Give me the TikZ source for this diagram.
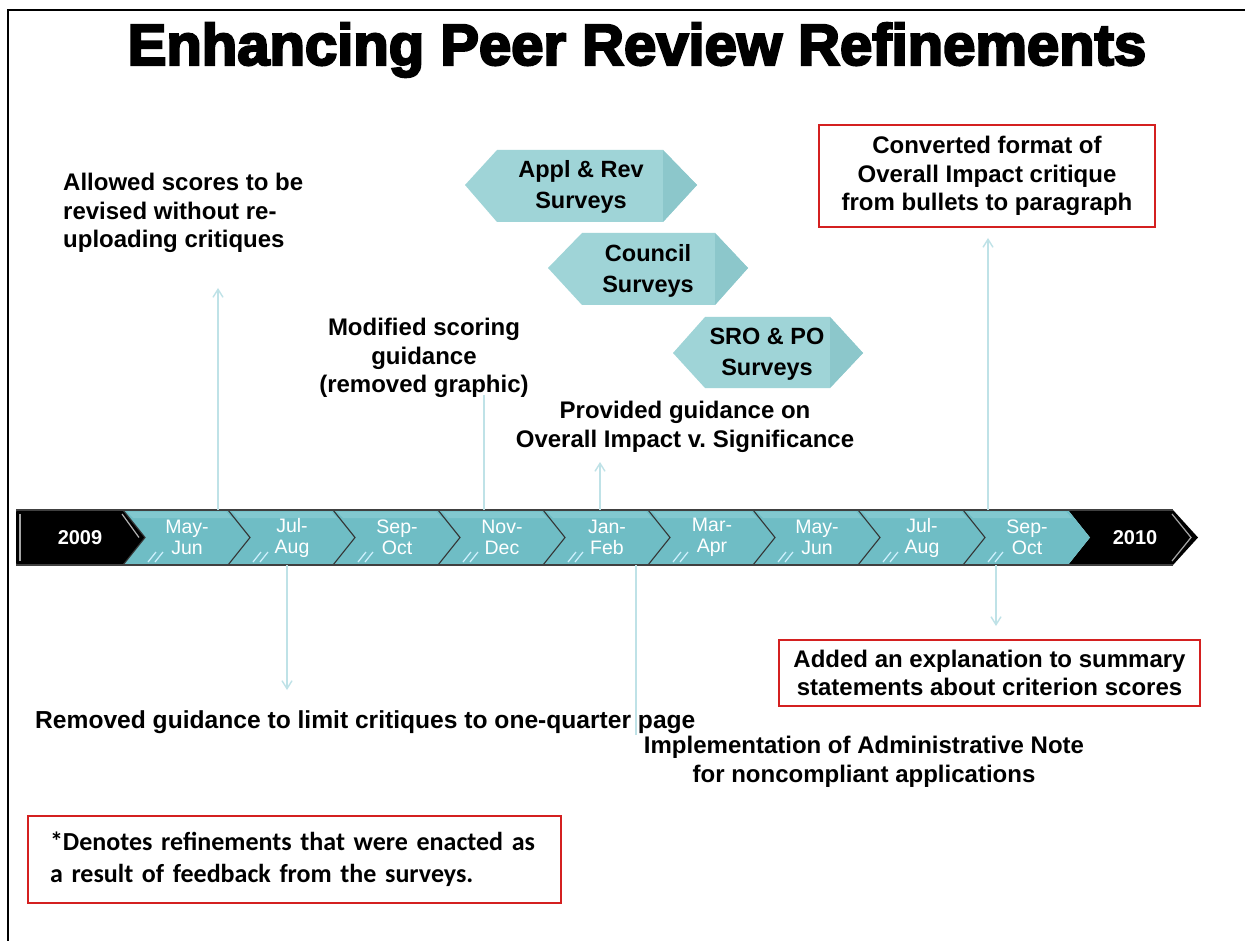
\documentclass[tikz,border=0pt]{standalone}
\usepackage{fontspec}
\setmainfont{Liberation Sans}
\newfontfamily\titlefont{Liberation Sans}[BoldFeatures={FakeBold=4}]
\newfontfamily\notefont{Carlito}
\usetikzlibrary{arrows.meta}

\definecolor{segteal}{HTML}{6FBDC5}
\definecolor{segtealhi}{HTML}{8FD0D6}
\definecolor{survey}{HTML}{9FD4D7}
\definecolor{surveydark}{HTML}{8CC7CB}
\definecolor{leader}{HTML}{BFE2E7}
\definecolor{boxred}{HTML}{D42020}

\tikzset{
  body/.style={font=\bfseries\fontsize{24}{28.5}\selectfont, align=center, inner sep=0pt},
  bodyleft/.style={body, align=left},
  redbox/.style={draw=boxred, line width=1.6pt},
  month/.style={font=\fontsize{19.5}{21}\selectfont, text=white, align=center, inner sep=0pt},
  yearlbl/.style={font=\bfseries\fontsize{20}{20}\selectfont, text=white, inner sep=0pt},
  lead/.style={draw=leader, line width=1.4pt},
  leadarrow/.style={lead, -{Straight Barb[length=8pt,width=10pt]}},
  surveylbl/.style={font=\bfseries\fontsize{23.5}{30.5}\selectfont, align=center, inner sep=0pt},
}

\begin{document}
\begin{tikzpicture}[x=1pt,y=-1pt]
\useasboundingbox (0,0) rectangle (1245,941);
\fill[white] (0,0) rectangle (1245,941);

% page frame (top and left edges)
\draw[line width=2.6pt] (8,941) -- (8,10) -- (1245,10);

% title
\node[font=\titlefont\bfseries\fontsize{58}{60}\selectfont, inner sep=0pt] (title) at (637,50) {Enhancing Peer Review Refinements};

% ---------- timeline bar ----------
\def\bt{510}\def\bb{565}\def\bm{537.5}
% 2009
\fill[black, rounded corners=2pt] (16,\bt) -- (123,\bt) -- (145,\bm) -- (123,\bb) -- (16,\bb) -- cycle;
\draw[gray!70, line width=1.2pt] (20,\bt+4) -- (20,\bb-4);
\draw[gray!60, line width=1.2pt] (122,\bt+4) -- (139,\bm);
\node[yearlbl] (y2009) at (80,\bm) {2009};
% 2010
\fill[black] (1068,\bt) -- (1173,\bt) -- (1198,\bm) -- (1173,\bb) -- (1068,\bb) -- (1090,\bm) -- cycle;
\draw[gray!70, line width=1.2pt] (1172,\bt+4) -- (1191,\bm) -- (1172,\bb-4);
\node[yearlbl] (y2010) at (1135,\bm) {2010};

% teal two-month segments
\foreach \i/\top/\bot in {0/May-/Jun,1/Jul-/Aug,2/Sep-/Oct,3/Nov-/Dec,4/Jan-/Feb,5/Mar-/Apr,6/May-/Jun,7/Jul-/Aug,8/Sep-/Oct}{
  \pgfmathsetmacro\L{123+105*\i}
  \pgfmathsetmacro\R{\L+105}
  \fill[segteal] (\L,\bt) -- (\R,\bt) -- (\R+22,\bm) -- (\R,\bb) -- (\L,\bb) -- (\L+22,\bm) -- cycle;
  \fill[segtealhi, opacity=0.6] (\L+4,\bt+1.5) -- (\R-2,\bt+1.5) -- (\R+4,\bt+8) -- (\L+10,\bt+8) -- cycle;
  \draw[black!80, line width=1.1pt] (\L,\bt) -- (\L+22,\bm) -- (\L,\bb);
  \draw[white!80!cyan, line width=1.3pt] (\L+25,\bb-3) -- (\L+33,\bb-13);
  \draw[white!80!cyan, line width=1.3pt] (\L+32,\bb-3) -- (\L+40,\bb-13);
  \node[month] (m\i) at (\L+64,\bm) {\top\\\bot};
}
\draw[black!75, line width=1.2pt] (16,\bt) -- (1173,\bt);
\draw[black!75, line width=1.2pt] (16,\bb) -- (1173,\bb);

% points on the bar where leaders start
\coordinate (pA) at (218,\bt);
\coordinate (pB) at (287,\bb);
\coordinate (pC) at (484,\bt);
\coordinate (pD) at (600,\bt);
\coordinate (pE) at (636,\bb);
\coordinate (pF) at (988,\bt);
\coordinate (pG) at (996,\bb);

% ---------- survey markers ----------
\fill[survey] (465,185) -- (497,150) -- (663,150) -- (697,185) -- (663,222) -- (497,222) -- cycle;
\fill[surveydark] (663,150) -- (697,185) -- (663,222) -- cycle;
\node[surveylbl] (sv1) at (581,187) {Appl \& Rev\\Surveys};

\fill[survey] (548,268) -- (582,233) -- (715,233) -- (748,268) -- (715,305) -- (582,305) -- cycle;
\fill[surveydark] (715,233) -- (748,268) -- (715,305) -- cycle;
\node[surveylbl] (sv2) at (648,271) {Council\\Surveys};

\fill[survey] (673,353) -- (705,317) -- (830,317) -- (863,353) -- (830,388) -- (705,388) -- cycle;
\fill[surveydark] (830,317) -- (863,353) -- (830,388) -- cycle;
\node[surveylbl] (sv3) at (767,354) {SRO \& PO\\Surveys};

% ---------- refinements ----------
\node[bodyleft, anchor=west] (tA) at (63,213) {Allowed scores to be\\revised without re-\\uploading critiques};
\coordinate (aA) at (218,288);

\node[body] (tC) at (424,358) {Modified scoring\\guidance\\(removed graphic)};
\coordinate (aC) at (484,395);

\node[body] (tD) at (685,427) {Provided guidance on\\Overall Impact v.\ Significance};
\coordinate (aD) at (600,462);

\node[body, redbox, minimum width=336pt, minimum height=102pt] (tF) at (987,176) {Converted format of\\Overall Impact critique\\from bullets to paragraph};
\coordinate (aF) at (988,238);

\node[body, anchor=west, font=\bfseries\fontsize{24.6}{28.5}\selectfont] (tB) at (35,722) {Removed guidance to limit critiques to one-quarter page};
\coordinate (aB) at (287,690);

\node[body] (tE) at (864,762) {Implementation of Administrative Note\\for noncompliant applications};
\coordinate (aE) at (636,735);

\node[body, redbox, minimum width=421pt, minimum height=66pt] (tG) at (989.5,673) {Added an explanation to summary\\statements about criterion scores};
\coordinate (aG) at (996,626);

% leaders
\draw[leadarrow] (pA) -- (aA);
\draw[leadarrow] (pB) -- (aB);
\draw[lead] (pC) -- (aC);
\draw[leadarrow] (pD) -- (aD);
\draw[lead] (pE) -- (aE);
\draw[leadarrow] (pF) -- (aF);
\draw[leadarrow] (pG) -- (aG);

% footnote
\node[redbox, align=left, text width=489pt, inner xsep=22pt, inner ysep=0pt, minimum height=87pt,
      font=\notefont\bfseries\fontsize{26}{32}\selectfont] (note) at (294.5,859.5)
  {*Denotes refinements that were enacted as\\a result of feedback from the surveys.};
\end{tikzpicture}
\end{document}
